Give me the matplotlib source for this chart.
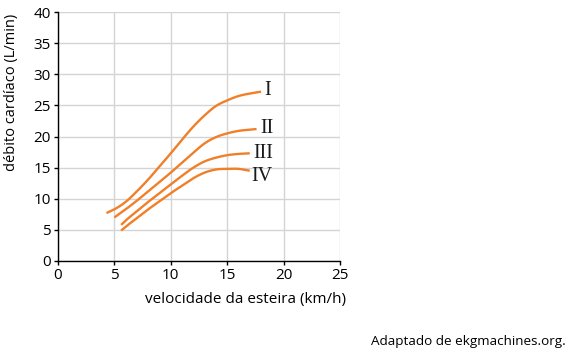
import matplotlib
matplotlib.use("Agg")
import matplotlib.pyplot as plt
import numpy as np

x_I = [4.3, 5, 6, 7, 8, 9, 10, 11, 12, 13, 14, 15, 16, 17, 18]
y_I = [7.7, 8.3, 9.5, 11.2, 13.1, 15.2, 17.3, 19.5, 21.6, 23.4, 24.9, 25.8, 26.5, 26.9, 27.2]
x_II = [5, 6, 7, 8, 9, 10, 11, 12, 13, 14, 15, 16, 17, 17.6]
y_II = [7.0, 8.3, 9.7, 11.2, 12.7, 14.2, 15.8, 17.4, 18.9, 19.9, 20.5, 20.9, 21.1, 21.2]
x_III = [5.6, 6, 7, 8, 9, 10, 11, 12, 13, 14, 15, 16, 17]
y_III = [5.8, 6.5, 8.0, 9.5, 10.9, 12.3, 13.7, 15.0, 16.0, 16.6, 17.0, 17.2, 17.3]
x_IV = [5.6, 6, 7, 8, 9, 10, 11, 12, 13, 14, 15, 16, 17]
y_IV = [4.9, 5.5, 6.9, 8.3, 9.6, 10.9, 12.1, 13.3, 14.2, 14.7, 14.8, 14.8, 14.5]
series = [("I", x_I, y_I), ("II", x_II, y_II), ("III", x_III, y_III), ("IV", x_IV, y_IV)]
label_pos = {"I": (18.55, 27.4), "II": (18.5, 21.3), "III": (18.2, 17.2), "IV": (18.1, 13.6)}

xticks = [0, 5, 10, 15, 20, 25]
yticks = [0, 5, 10, 15, 20, 25, 30, 35, 40]


def smooth(xs, ys, n=20):
    """Draw a smooth (Catmull-Rom style Hermite) path through the data points."""
    xs = np.asarray(xs, float)
    ys = np.asarray(ys, float)
    m = np.gradient(ys, xs)
    px, py = [], []
    for i in range(len(xs) - 1):
        h = xs[i + 1] - xs[i]
        t = np.linspace(0, 1, n, endpoint=False)
        h00 = 2 * t**3 - 3 * t**2 + 1
        h10 = t**3 - 2 * t**2 + t
        h01 = -2 * t**3 + 3 * t**2
        h11 = t**3 - t**2
        px.extend(xs[i] + t * h)
        py.extend(h00 * ys[i] + h10 * h * m[i] + h01 * ys[i + 1] + h11 * h * m[i + 1])
    px.append(xs[-1])
    py.append(ys[-1])
    return px, py


plt.rcParams['font.family'] = ['Open Sans', 'DejaVu Sans']

fig = plt.figure(figsize=(5.72, 3.55), dpi=100)
ax = fig.add_axes([58/572, 1-261/355, (340-58)/572, (261-12)/355])
color = "#F07F28"
for name, xs, ys in series:
    sx, sy = smooth(xs, ys)
    ax.plot(sx, sy, color=color, lw=1.7, solid_capstyle='butt')
    lx, ly = label_pos[name]
    ax.text(lx, ly, name, family='Liberation Serif', fontsize=14.5, ha='center', va='center', color='#1a1a1a')

ax.set_xlim(0, 25)
ax.set_ylim(0, 40)
ax.set_xticks(xticks)
ax.set_yticks(yticks)
ax.grid(True, color='#d4d4d4', lw=1)
ax.set_axisbelow(True)
for s in ['top', 'right']:
    ax.spines[s].set_visible(False)
for s in ['left', 'bottom']:
    ax.spines[s].set_color('black')
    ax.spines[s].set_linewidth(1)
ax.tick_params(labelsize=11, length=3, width=1, colors='black', pad=2)

fig.text(12/572, 1-92/355, "débito cardíaco (L/min)", rotation=90, ha='center', va='center', fontsize=10.5)
fig.text(346/572, 1-299/355, "velocidade da esteira (km/h)", ha='right', va='center', fontsize=11)
fig.text(566/572, 1-342/355, "Adaptado de ekgmachines.org.", ha='right', va='center', fontsize=9.7)

fig.savefig("out.png", dpi=100)
